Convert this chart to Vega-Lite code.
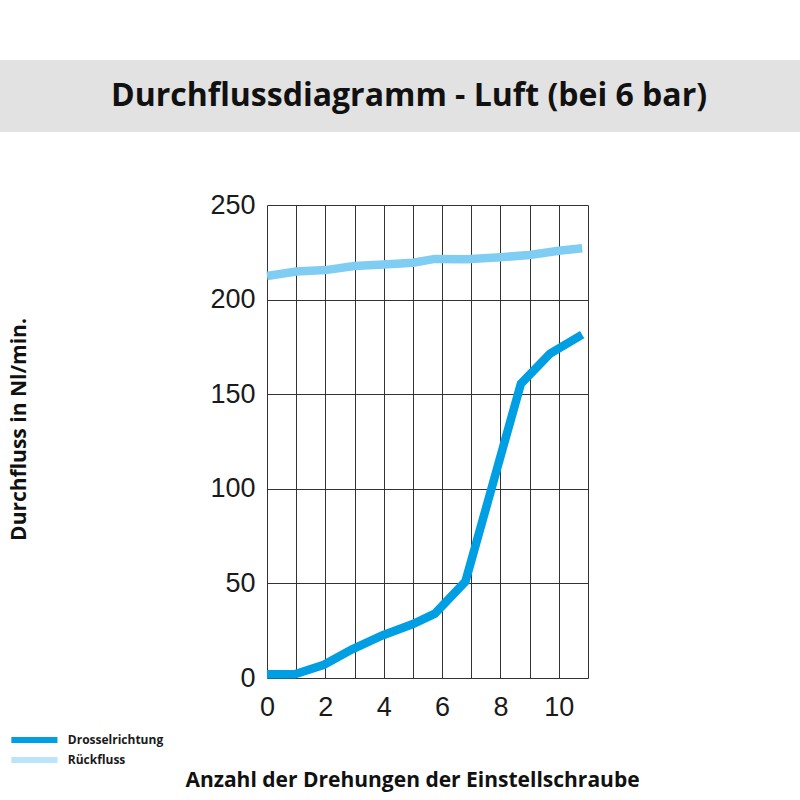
{
  "$schema": "https://vega.github.io/schema/vega-lite/v6.json",
  "description": "Durchflussdiagramm - Luft (bei 6 bar)",
  "padding": {"left": 0, "top": 60, "right": 0, "bottom": 8},
  "background": "white",
  "spacing": 73,
  "bounds": "flush",
  "config": {
    "view": {"stroke": null},
    "axis": {
      "grid": true,
      "gridColor": "#333333",
      "gridWidth": 1,
      "gridOpacity": 1,
      "domain": false,
      "ticks": false,
      "labelFont": "Liberation Sans",
      "labelFontSize": 27,
      "labelColor": "#1a1a1a",
      "labelFlush": false,
      "labelOverlap": false,
      "titleFont": "Open Sans",
      "titleFontWeight": "bold",
      "titleFontSize": 21,
      "titleColor": "#111111"
    },
    "legend": {
      "labelFont": "Open Sans",
      "labelFontWeight": "bold",
      "labelFontSize": 12,
      "labelColor": "#1a1a1a"
    }
  },
  "vconcat": [
    {
      "width": 800,
      "height": 72,
      "view": {"fill": "#e2e2e2", "stroke": null},
      "data": {"values": [{"titel": "Durchflussdiagramm - Luft (bei 6 bar)"}]},
      "mark": {
        "type": "text",
        "font": "Open Sans",
        "fontWeight": "bold",
        "fontSize": 32,
        "color": "#111111",
        "dx": 9
      },
      "encoding": {"text": {"field": "titel"}}
    },
    {
      "spacing": 0,
      "bounds": "flush",
      "hconcat": [
        {
          "width": 267,
          "height": 473,
          "view": {"stroke": null},
          "data": {"values": []},
          "mark": "point"
        },
        {
          "width": 321,
          "height": 473,
          "data": {
            "values": [
              {"reihe": "Drosselrichtung", "drehungen": 0, "durchfluss": 2},
              {"reihe": "Drosselrichtung", "drehungen": 0.95, "durchfluss": 2},
              {"reihe": "Drosselrichtung", "drehungen": 1.95, "durchfluss": 7},
              {"reihe": "Drosselrichtung", "drehungen": 2.9, "durchfluss": 15},
              {"reihe": "Drosselrichtung", "drehungen": 3.95, "durchfluss": 22.5},
              {"reihe": "Drosselrichtung", "drehungen": 5, "durchfluss": 28.5},
              {"reihe": "Drosselrichtung", "drehungen": 5.75, "durchfluss": 34},
              {"reihe": "Drosselrichtung", "drehungen": 6.8, "durchfluss": 51},
              {"reihe": "Drosselrichtung", "drehungen": 8.7, "durchfluss": 155.5},
              {"reihe": "Drosselrichtung", "drehungen": 9.7, "durchfluss": 171.5},
              {"reihe": "Drosselrichtung", "drehungen": 10.8, "durchfluss": 181.5},
              {"reihe": "Rückfluss", "drehungen": 0, "durchfluss": 212.5},
              {"reihe": "Rückfluss", "drehungen": 1, "durchfluss": 214.8},
              {"reihe": "Rückfluss", "drehungen": 2, "durchfluss": 215.6},
              {"reihe": "Rückfluss", "drehungen": 3, "durchfluss": 217.8},
              {"reihe": "Rückfluss", "drehungen": 4, "durchfluss": 218.6},
              {"reihe": "Rückfluss", "drehungen": 5, "durchfluss": 219.5},
              {"reihe": "Rückfluss", "drehungen": 5.75, "durchfluss": 221.5},
              {"reihe": "Rückfluss", "drehungen": 6.85, "durchfluss": 221.3},
              {"reihe": "Rückfluss", "drehungen": 8, "durchfluss": 222.4},
              {"reihe": "Rückfluss", "drehungen": 9, "durchfluss": 223.6},
              {"reihe": "Rückfluss", "drehungen": 10, "durchfluss": 225.8},
              {"reihe": "Rückfluss", "drehungen": 10.8, "durchfluss": 227.1}
            ]
          },
          "mark": {"type": "line", "strokeCap": "butt", "strokeJoin": "miter", "strokeWidth": 8.5},
          "encoding": {
            "x": {
              "field": "drehungen",
              "type": "quantitative",
              "scale": {"domain": [0, 11], "nice": false},
              "axis": {
                "values": [0, 1, 2, 3, 4, 5, 6, 7, 8, 9, 10, 11],
                "labelExpr": "datum.value % 2 === 0 && datum.value <= 10 ? datum.label : ''",
                "labelPadding": 16,
                "title": "Anzahl der Drehungen der Einstellschraube",
                "titleX": 145,
                "titleY": 102,
                "titleAnchor": "middle",
                "titleAlign": "center",
                "titleBaseline": "middle"
              }
            },
            "y": {
              "field": "durchfluss",
              "type": "quantitative",
              "scale": {"domain": [0, 250], "nice": false},
              "axis": {
                "values": [0, 50, 100, 150, 200, 250],
                "labelPadding": 12,
                "labelBaseline": "middle",
                "title": "Durchfluss in Nl/min.",
                "titleAngle": -90,
                "titleX": -248,
                "titleY": 224,
                "titleAlign": "center",
                "titleBaseline": "middle"
              }
            },
            "color": {
              "field": "reihe",
              "type": "nominal",
              "scale": {
                "domain": ["Drosselrichtung", "Rückfluss"],
                "range": ["#009fe3", "#80cdf4"]
              },
              "legend": {
                "title": null,
                "orient": "none",
                "legendX": 26.4,
                "legendY": 672,
                "padding": 0,
                "symbolType": "M-5,0H5",
                "symbolSize": 85,
                "symbolStrokeWidth": 6,
                "rowPadding": -10,
                "labelOffset": 25.4,
                "encode": {
                  "symbols": {
                    "update": {
                      "strokeOpacity": {"signal": "datum.value === 'Rückfluss' ? 0.55 : 1"}
                    }
                  }
                }
              }
            }
          }
        }
      ]
    }
  ]
}
